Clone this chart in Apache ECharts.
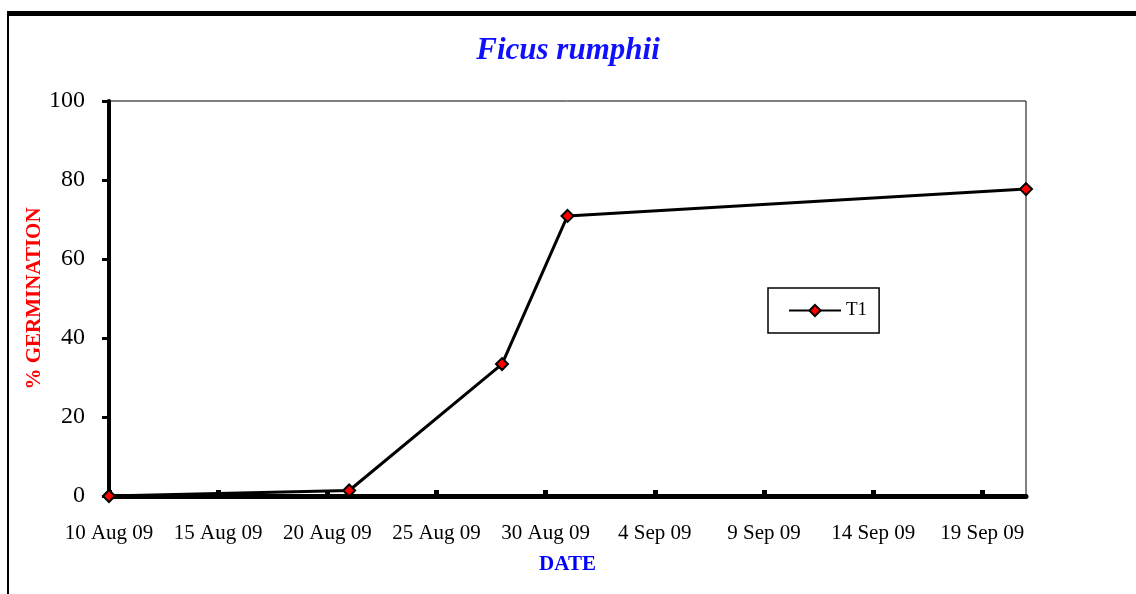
<!DOCTYPE html>
<html>
<head>
<meta charset="utf-8">
<script src="https://cdn.jsdelivr.net/npm/echarts@6/dist/echarts.min.js"></script>
<style>
html,body{margin:0;padding:0;background:#fff;}
#chart{width:1136px;height:594px;}
</style>
</head>
<body>
<div id="chart"></div>
<script>
// ---- data ----
var titleText = 'Ficus rumphii';
var seriesName = 'T1';
var dates = ['2009-08-10', '2009-08-21', '2009-08-28', '2009-08-31', '2009-09-21'];
var germination = [0, 1.4, 33.4, 70.9, 77.7];
var xTickLabels = ['10 Aug 09', '15 Aug 09', '20 Aug 09', '25 Aug 09', '30 Aug 09', '4 Sep 09', '9 Sep 09', '14 Sep 09', '19 Sep 09'];
var startDate = '2009-08-10';
var endDate = '2009-09-21';
var xAxisName = 'DATE';
var yAxisName = '% GERMINATION';

function dayOffset(s) {
  return Math.round((Date.parse(s + 'T00:00:00Z') - Date.parse(startDate + 'T00:00:00Z')) / 86400000);
}
var seriesData = dates.map(function (d, i) { return [dayOffset(d), germination[i]]; });
var xMax = dayOffset(endDate);

var serif = "'Liberation Serif', 'Times New Roman', serif";
var chart = echarts.init(document.getElementById('chart'), null, { renderer: 'canvas' });
chart.setOption({
  animation: false,
  backgroundColor: '#ffffff',
  title: {
    text: titleText,
    left: 'center',
    top: 30,
    textStyle: { fontFamily: serif, fontStyle: 'italic', fontWeight: 'bold', fontSize: 31, color: '#1010ff' }
  },
  graphic: [
    { type: 'line', shape: { x1: 7, y1: 13.5, x2: 1136, y2: 13.5 }, style: { stroke: '#000', lineWidth: 5 } },
    { type: 'line', shape: { x1: 8, y1: 11, x2: 8, y2: 594 }, style: { stroke: '#000', lineWidth: 2 } }
  ],
  grid: { left: 109, right: 110, top: 101, bottom: 98, show: true, borderColor: '#000', borderWidth: 1, backgroundColor: 'transparent' },
  legend: {
    left: 768,
    top: 288,
    orient: 'horizontal',
    backgroundColor: '#fff',
    borderColor: '#000',
    borderWidth: 1.5,
    padding: [13, 12, 13, 20],
    itemWidth: 52,
    itemHeight: 14,
    textStyle: { fontFamily: serif, fontSize: 19, color: '#000' },
    data: [seriesName]
  },
  xAxis: {
    type: 'value',
    min: 0,
    max: xMax,
    interval: 5,
    name: xAxisName,
    nameLocation: 'middle',
    nameGap: 58,
    nameMoveOverlap: false,
    nameTextStyle: { fontFamily: serif, fontWeight: 'bold', fontSize: 21, color: '#0000ff' },
    axisLine: { show: true, onZero: false, lineStyle: { color: '#000', width: 5 } },
    axisTick: { show: true, inside: true, length: 6, lineStyle: { color: '#000', width: 5 } },
    axisLabel: {
      margin: 27,
      fontFamily: serif, fontSize: 21, color: '#000',
      showMaxLabel: false,
      formatter: function (v) {
        if (v % 5 !== 0) return '';
        var idx = v / 5;
        return xTickLabels[idx] || '';
      }
    },
    splitLine: { show: false }
  },
  yAxis: {
    type: 'value',
    min: 0,
    max: 100,
    interval: 20,
    name: yAxisName,
    nameLocation: 'middle',
    nameGap: 64,
    nameMoveOverlap: false,
    nameTextStyle: { fontFamily: serif, fontWeight: 'bold', fontSize: 21, color: '#ff0000' },
    axisLine: { show: true, lineStyle: { color: '#000', width: 4 } },
    axisTick: { show: true, inside: false, length: 7, lineStyle: { color: '#000', width: 3 } },
    axisLabel: { margin: 24, fontFamily: serif, fontSize: 24, color: '#000' },
    splitLine: { show: false }
  },
  series: [{
    name: seriesName,
    type: 'line',
    data: seriesData,
    symbol: 'diamond',
    symbolSize: 12,
    showAllSymbol: true,
    clip: false,
    lineStyle: { color: '#000', width: 3 },
    itemStyle: { color: '#ff0000', borderColor: '#000', borderWidth: 2 },
    z: 5
  }]
});
</script>
</body>
</html>
